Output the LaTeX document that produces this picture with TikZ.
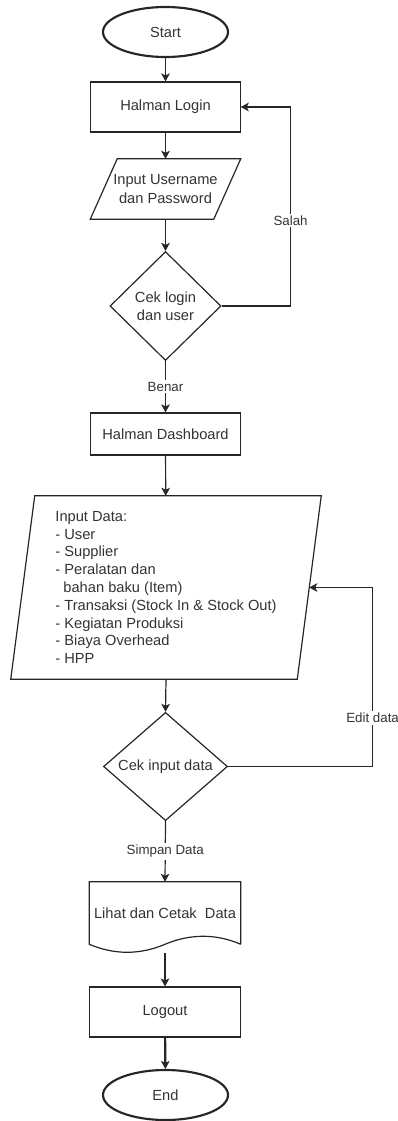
\documentclass[tikz,border=0pt]{standalone}
\usepackage{fontspec}
\setmainfont{Liberation Sans}
\usetikzlibrary{shapes.geometric,arrows.meta}

\begin{document}
\begin{tikzpicture}[x=0.75pt,y=-0.75pt,
  every node/.style={text=black!80,font=\fontsize{11}{13.8}\selectfont,inner sep=0pt,align=center},
  line/.style={draw=black!85,line width=0.9pt},
  arrow/.style={line,-{Stealth[length=6pt,width=6.5pt,inset=1.5pt]}},
  terminal/.style={ellipse,draw=black!85,line width=1.6pt,minimum width=93.75pt,minimum height=37.5pt},
  process/.style={rectangle,draw=black!85,line width=0.9pt,minimum width=112pt},
  decision/.style={diamond,draw=black!85,line width=0.9pt},
  edgetext/.style={fill=white,inner sep=1.5pt,font=\fontsize{10}{12}\selectfont}
]
  \useasboundingbox (0,0) rectangle (398,1121);

  \node[terminal] (start) at (165.5,32) {Start};
  \node[process,minimum height=37.5pt] (login) at (165.5,107) {Halman Login};
  \node[minimum width=92.25pt,minimum height=45pt] (inuser) at (165.5,189) {Input Username\\dan Password};
  \node[decision,minimum width=83.25pt,minimum height=81.75pt] (ceklogin) at (165.5,306) {Cek login\\dan user};
  \node[process,minimum height=31.5pt] (dash) at (165.5,434) {Halman Dashboard};
  \node[minimum width=214.5pt,minimum height=137.25pt,align=left,font=\fontsize{11}{13.35}\selectfont] (indata) at (166,587.5)
    {Input Data:\\- User\\- Supplier\\- Peralatan dan\\\hspace{6pt}bahan baku (Item)\\- Transaksi (Stock In \& Stock Out)\\- Kegiatan Produksi\\- Biaya Overhead\\- HPP};
  \node[decision,minimum width=93pt,minimum height=74.25pt] (cekinput) at (165.5,766.5) {Cek input data};
  \node[minimum width=113.25pt,minimum height=46.5pt] (doc) at (165,913) {Lihat dan Cetak~~Data};
  \node[process,minimum width=113.25pt,minimum height=37.5pt] (logout) at (165,1012) {Logout};
  \node[terminal] (theend) at (165.5,1095) {End};

  % parallelograms and document shape
  \draw[line] ([shift={(-13.5,0)}]inuser.south west) -- ([shift={(13.5,0)}]inuser.north west)
    -- ([shift={(13.5,0)}]inuser.north east) -- ([shift={(-13.5,0)}]inuser.south east) -- cycle;
  \draw[line] ([shift={(-12,0)}]indata.south west) -- ([shift={(12,0)}]indata.north west)
    -- ([shift={(12,0)}]indata.north east) -- ([shift={(-12,0)}]indata.south east) -- cycle;
  \draw[line] (doc.south east) -- (doc.north east) -- (doc.north west) -- (doc.south west)
    .. controls ([shift={(25.17,10.67)}]doc.south west) and ([shift={(-25.17,10.67)}]doc.south) .. (doc.south)
    .. controls ([shift={(25.5,-10.67)}]doc.south) and ([shift={(-24.83,-10.67)}]doc.south east) .. (doc.south east);

  \draw[arrow] (start) -- (login);
  \draw[arrow] (login) -- (inuser);
  \draw[arrow] (inuser) -- (ceklogin);
  \draw[arrow] (ceklogin.south) -- node[edgetext] {Benar} (dash.north);
  \draw[arrow] (ceklogin.east) -- ++(69,0) coordinate (salahturn) -- (salahturn |- login.east) node[edgetext,pos=0.43] {Salah} -- (login.east);
  \draw[arrow] (dash) -- (indata);
  \draw[arrow] (indata.south) -- (cekinput.north);
  \draw[arrow] (cekinput.east) -- ++(144.5,0) coordinate (editturn) -- (editturn |- indata.east) node[edgetext,pos=0.27] {Edit data} -- (indata.east);
  \draw[arrow] (cekinput.south) -- node[edgetext] {Simpan Data} (doc.north);
  \draw[arrow] ([yshift=-6.75pt]doc.south) -- (logout.north);
  \draw[arrow,line width=1.6pt] (logout) -- (theend);
\end{tikzpicture}
\end{document}
